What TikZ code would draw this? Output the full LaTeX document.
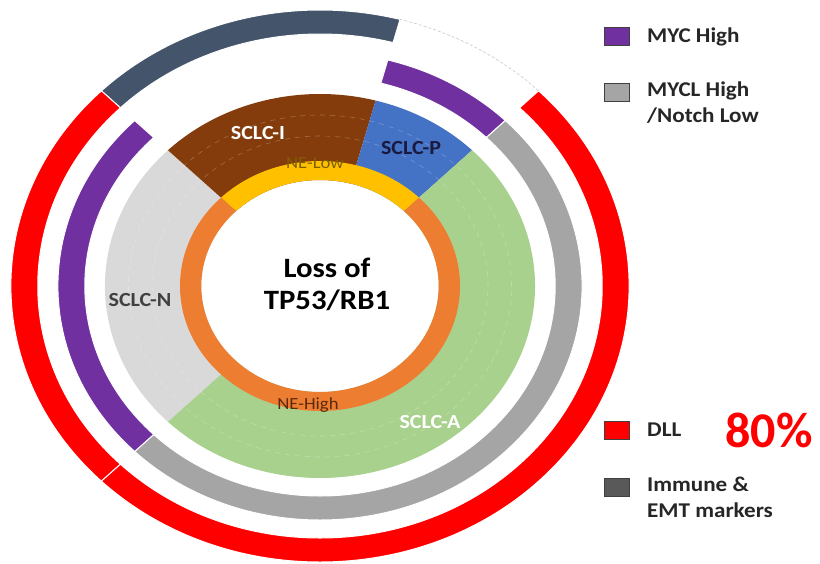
\documentclass[tikz,border=0pt]{standalone}
\usepackage{fontspec}
\setmainfont{Carlito}[FakeStretch=1.1]
\newfontfamily\plainfont{Carlito}
\definecolor{cred}{HTML}{FF0000}
\definecolor{cslate}{HTML}{44546A}
\definecolor{cpurple}{HTML}{7030A0}
\definecolor{cgray}{HTML}{A5A5A5}
\definecolor{cdarkgray}{HTML}{595959}
\definecolor{cbrown}{HTML}{843C0C}
\definecolor{cblue}{HTML}{4472C4}
\definecolor{cgreen}{HTML}{A9D18E}
\definecolor{clight}{HTML}{D9D9D9}
\definecolor{cyellow}{HTML}{FFC000}
\definecolor{corange}{HTML}{ED7D31}
\definecolor{cnavy}{HTML}{1A1A40}
\definecolor{colive}{HTML}{7F6000}
\definecolor{cbrowntext}{HTML}{5A2A0A}
\definecolor{cntext}{HTML}{404040}
% #1 style, #2 start angle, #3 end angle, #4 inner radius, #5 outer radius
\newcommand\ringseg[5]{%
  \path[#1] (#2:#5) arc[start angle=#2,end angle=#3,radius=#5]
    -- (#3:#4) arc[start angle=#3,end angle=#2,radius=#4] -- cycle;}
\tikzset{
  segfill/.style={fill=#1},
  bandfill/.style={fill=#1, draw=white, line width=1pt},
  seglabel/.style={font=\bfseries\fontsize{20}{22}\selectfont, inner sep=0pt},
  nelabel/.style={font=\fontsize{17}{19}\selectfont, inner sep=0pt},
  legbox/.style={draw=cntext, line width=0.8pt, fill=#1, minimum width=25pt, minimum height=18pt, inner sep=0pt},
  legtext/.style={font=\bfseries\fontsize{21}{26}\selectfont, align=left, anchor=west, inner sep=0pt, text=black!85},
  gridarc/.style={white, opacity=0.25, line width=0.6pt, dash pattern=on 5pt off 5pt}
}
\begin{document}
\begin{tikzpicture}[x=1pt, y=-1pt]
\useasboundingbox (0,0) rectangle (820,563);
\begin{scope}[shift={(320,286)}, xscale=1.12, yscale=-1]
  % subtype sectors
  \ringseg{segfill=clight}{135}{225}{106}{192}
  \ringseg{segfill=cbrown}{75}{135}{106}{192}
  \ringseg{segfill=cblue}{45}{75}{106}{192}
  \ringseg{segfill=cgreen}{-135}{45}{106}{192}
  \draw[gridarc] (0,0) circle[radius=150];
  \draw[gridarc] (0,0) circle[radius=171];
  % NE ring
  \ringseg{segfill=cyellow}{45}{135}{106}{125}
  \ringseg{segfill=corange}{135}{405}{106}{125}
  % MYC ring
  \ringseg{bandfill=cpurple}{45}{75}{210}{234}
  \ringseg{bandfill=cgray}{-135}{45}{210}{234}
  \ringseg{bandfill=cpurple}{135}{225}{210}{234}
  % outer ring
  \ringseg{bandfill=cslate}{75}{135}{252}{276}
  \ringseg{bandfill=cred}{135}{225}{252}{276}
  \ringseg{bandfill=cred}{225}{405}{252}{276}
  \draw[black!25, line width=0.5pt, dash pattern=on 3pt off 2pt] (45:276) arc[start angle=45,end angle=75,radius=276];
\end{scope}
% labels on the chart
\node[seglabel, text=white] (lI) at (258,133) {SCLC-I};
\node[seglabel, text=cnavy] (lP) at (411,148) {SCLC-P};
\node[nelabel, text=colive] (lLow) at (315,163) {NE-Low};
\node[seglabel, text=cntext] (lN) at (140,300) {SCLC-N};
\node[nelabel, text=cbrowntext] (lHigh) at (308,405) {NE-High};
\node[seglabel, text=white] (lA) at (430,422) {SCLC-A};
\node[font=\bfseries\fontsize{28}{32}\selectfont, align=center, inner sep=0pt] (center) at (327,284) {Loss of\\TP53/RB1};
% legend
\node[legbox=cpurple] (b1) at (616.5,36.5) {};
\node[legtext] (t1) at (647,37) {MYC High};
\node[legbox=cgray] (b2) at (616.5,92.5) {};
\node[legtext, anchor=north west] (t2) at (647,82) {MYCL High\\/Notch Low};
\node[legbox=cred] (b3) at (616.5,430) {};
\node[legtext] (t3) at (647,430) {DLL};
\node[legbox=cdarkgray] (b4) at (616.5,487) {};
\node[legtext, anchor=north west] (t4) at (647,477) {Immune \&\\EMT markers};
\node[font=\plainfont\bfseries\fontsize{50}{54}\selectfont, text=cred, inner sep=0pt] (pct) at (769,430) {80\%};
\end{tikzpicture}
\end{document}
